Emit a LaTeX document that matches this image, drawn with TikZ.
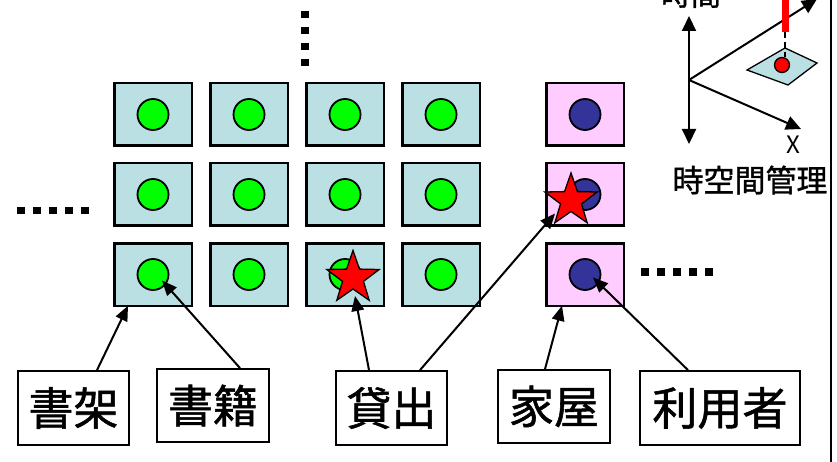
\documentclass[tikz,border=0pt]{standalone}
\usepackage{fontspec}
\newfontfamily\jp{Noto Sans CJK JP}
\newfontfamily\jpb[FakeBold=1.2]{Noto Sans CJK JP}
\usetikzlibrary{arrows.meta,shapes.geometric}
\definecolor{cellblue}{RGB}{187,224,227}
\definecolor{cellpink}{RGB}{255,204,255}
\definecolor{ballgreen}{RGB}{0,255,0}
\definecolor{ballblue}{RGB}{51,51,153}
\begin{document}
\begin{tikzpicture}[x=1pt,y=-1pt,
  cell/.style={draw=black,line width=2.5pt,minimum width=77.5pt,minimum height=62.5pt,inner sep=0pt,outer sep=0pt},
  bluecell/.style={cell,fill=cellblue},
  pinkcell/.style={cell,fill=cellpink},
  ball/.style={circle,draw=black,line width=1.8pt,minimum size=31pt,inner sep=0pt},
  greenball/.style={ball,fill=ballgreen},
  blueball/.style={ball,fill=ballblue},
  redstar/.style={star,star points=5,star point ratio=2.5,minimum size=55pt,inner sep=0pt,draw=black,line width=1.3pt,fill=red},
  label/.style={draw=black,line width=1.8pt,inner sep=0pt,font=\jpb\fontsize{45}{45}\selectfont},
  arr/.style={line width=2pt,-{Triangle[length=15pt,width=12.5pt]}},
  axis/.style={line width=2pt,-{Triangle[length=15pt,width=14pt]}},
  dot/.style={fill=black}
]
\useasboundingbox (0,0) rectangle (837,462);
\fill[white] (0,0) rectangle (837,462);

% grid cells
\foreach \r/\y in {1/114.5,2/194.5,3/274.5}{
  \foreach \c/\x in {1/153,2/249,3/345,4/441}{
    \node[bluecell] (b\r\c) at (\x,\y) {};
    \node[greenball] (c\r\c) at (\x,\y) {};
  }
  \node[pinkcell] (b\r5) at (585,\y) {};
  \node[blueball] (c\r5) at (585,\y) {};
}

% stars
\node[redstar] (s1) at (353,278) {};
\node[redstar] (s2) at (571,200.5) {};

% dots
\foreach \y in {11,27,43,59}{\fill[dot] (301,\y) rectangle (309,\y+7.5);}
\foreach \x in {17,33,49,65,81}{\fill[dot] (\x,207) rectangle (\x+8,214.5);}
\foreach \x in {641,657,673,689,705}{\fill[dot] (\x,268) rectangle (\x+8,275.5);}

% labels
\node[label,minimum width=111pt,minimum height=74pt] (l1) at (73.5,408) {書架};
\node[label,minimum width=112pt,minimum height=73pt] (l2) at (213,405.5) {書籍};
\node[label,minimum width=111pt,minimum height=74pt] (l3) at (391.5,408) {貸出};
\node[label,minimum width=112pt,minimum height=73pt] (l4) at (554,406.5) {家屋};
\node[label,minimum width=160pt,minimum height=74pt] (l5) at (720,408) {利用者};

% connectors
\draw[arr] ([xshift=23.5pt]l1.north) -- ([xshift=-25pt]b31.south);
\draw[arr] ([xshift=27pt]l2.north) -- ([shift={(9,6)}]c31.center);
\draw[arr] ([xshift=-22.5pt]l3.north) -- ([shift={(2,18)}]s1.center);
\draw[arr] ([xshift=28.5pt]l3.north) -- ([shift={(-16,13)}]s2.center);
\draw[arr] ([xshift=-9pt]l4.north) -- ([xshift=-23pt]b35.south);
\draw[arr] ([xshift=-32pt]l5.north) -- ([shift={(8,3)}]c35.center);

% space-time axes
\coordinate (o) at (689,80);
\coordinate (tup) at (689,16);
\coordinate (tdn) at (689,144);
\coordinate (yend) at (817,-1);
\coordinate (xend) at (801,129);
\draw[axis] (o) -- (tup);
\draw[axis] (o) -- (tdn);
\draw[axis] (o) -- (yend);
\draw[axis] (o) -- (xend);
\node[font=\jp\fontsize{24}{24}\selectfont] (xl) at (793,145) {X};
\node[font=\jpb\fontsize{30}{30}\selectfont] (tl) at (691,-6) {時間};
\node[font=\jpb\fontsize{31}{31}\selectfont] (stl) at (750,180) {時空間管理};

% diamond with red marker
\coordinate (dl) at (747,70);
\coordinate (dt) at (785,48);
\coordinate (dr) at (817,63);
\coordinate (db) at (788,85);
\draw[fill=cellblue,line width=1.3pt] (dl) -- (dt) -- (dr) -- (db) -- cycle;
\node[circle,draw=black,line width=1.3pt,fill=red,minimum size=15pt,inner sep=0pt] (rc) at (782,65) {};
\fill[red] (781.5,-2) rectangle (788.5,32);
\coordinate (bar) at (785,32);
\draw[line width=1.5pt,dash pattern=on 6pt off 4pt] (bar) -- (rc.north -| bar);

% right border
\draw[line width=2.5pt] (831,-1) -- (831,463);
\end{tikzpicture}
\end{document}
